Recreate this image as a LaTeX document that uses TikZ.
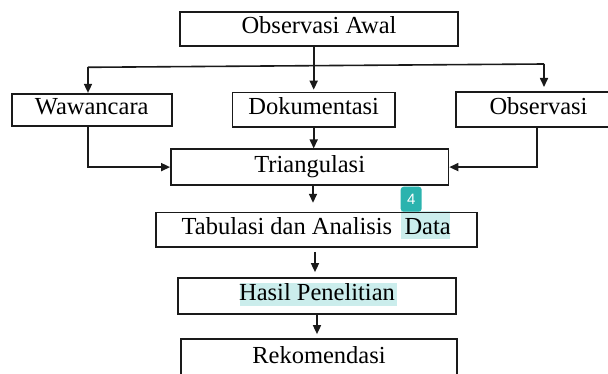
\documentclass[tikz,border=0pt]{standalone}
\usepackage{fontspec}
\setmainfont{Liberation Serif}
\newfontfamily\badgefont{Liberation Sans}
\usetikzlibrary{arrows.meta}
\definecolor{linec}{HTML}{1A1A1A}
\definecolor{hilite}{HTML}{CBEDEC}
\definecolor{badgec}{HTML}{2BB3AE}
\tikzset{
  stepbox/.style={draw=linec, line width=1.7pt, rectangle, inner sep=0pt,
    text height=17pt, text depth=7pt, font=\fontsize{24.5}{29}\selectfont, text=black},
  arr/.style={draw=linec, line width=1.6pt, -{Triangle[length=9pt,width=8pt]}},
  ln/.style={draw=linec, line width=1.6pt},
}
\begin{document}
\begin{tikzpicture}[x=1pt,y=-1pt]
\useasboundingbox (0,0) rectangle (608,374);
% highlights
\fill[hilite] (401,210.7) rectangle (450,239.3);
\fill[hilite] (240,283) rectangle (396.7,306);
% boxes
\node[stepbox, minimum width=278pt, minimum height=33.4pt] (oa) at (319,29) {Observasi Awal};
\node[stepbox, minimum width=160pt, minimum height=32.3pt] (waw) at (91.7,109.9) {Wawancara};
\node[stepbox, minimum width=162.5pt, minimum height=34.5pt] (dok) at (313.7,109.8) {Dokumentasi};
\node[stepbox, minimum width=165pt, minimum height=35pt] (obs) at (538.5,109.8) {Observasi};
\node[stepbox, minimum width=277.5pt, minimum height=35.7pt] (tri) at (309.7,167.1) {Triangulasi};
\node[stepbox, minimum width=321pt, minimum height=34.3pt] (tab) at (316.2,229.8) {Tabulasi dan Analisis\hspace{0.25em} Data};
\node[stepbox, minimum width=278pt, minimum height=36pt] (has) at (317,296) {Hasil Penelitian};
\node[stepbox, minimum width=276pt, minimum height=38pt] (rek) at (319,358) {Rekomendasi};
% badge
\node[fill=badgec, rounded corners=3pt, minimum width=21pt, minimum height=25pt, inner sep=0pt,
  text=white, font=\badgefont\fontsize{15}{17}\selectfont] (badge) at (411.2,199.2) {4};
% connectors
\coordinate (hl) at (88,67.3);
\coordinate (hr) at (544,64);
\coordinate (hre) at (544,87);
\coordinate (obx) at (536.7,0);
\coordinate (ax1) at (313,0);
\coordinate (ax2) at (315,0);
\coordinate (ax3) at (317,0);
\draw[arr, shorten >=2pt] (oa.south -| dok.north) -- (dok.north);
\draw[ln] (hl) -- (hr);
\draw[arr] (hl) -- (hl |- waw.north);
\draw[arr] (hr) -- (hre);
\draw[arr] (waw.south -| hl) |- (tri.west);
\draw[arr] (obs.south -| obx) |- (tri.east);
\draw[arr] (dok.south) -- (dok.south |- tri.north);
\draw[arr, shorten >=9pt] (tri.south -| ax1) -- (ax1 |- tab.north);
\draw[arr, shorten <=4pt, shorten >=5pt] (tab.south -| ax2) -- (ax2 |- has.north);
\draw[arr, shorten >=4pt] (has.south -| ax3) -- (ax3 |- rek.north);
\end{tikzpicture}
\end{document}
